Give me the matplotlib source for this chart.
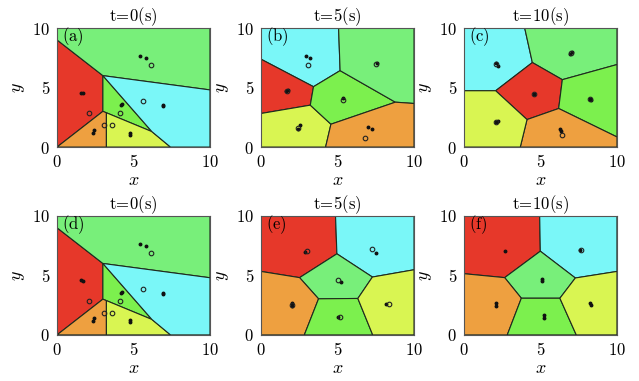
import numpy as np
import matplotlib
matplotlib.use('Agg')
import matplotlib.pyplot as plt
from matplotlib.patches import Polygon

plt.rcParams['mathtext.fontset'] = 'cm'
plt.rcParams['font.family'] = 'serif'
plt.rcParams['font.serif'] = ['DejaVu Serif']

# cell colours
RED = '#e6382a'
PALE = '#78ef7a'
LIME = '#7cf04e'
CYAN = '#7af7f8'
ORANGE = '#eea040'
YELLOW = '#d9f552'

# t = 0 partition (panels a and d)
cells_t0 = [
    ([(0, 0), (0, 9), (3, 6), (3, 3)], RED),
    ([(0, 9), (0, 10), (10, 10), (10, 4.8), (3, 6)], PALE),
    ([(3, 6), (3, 3), (6.2, 1.3)], LIME),
    ([(0, 0), (3, 3), (3.23, 2.88), (3.23, 0)], ORANGE),
    ([(3.23, 0), (3.23, 2.88), (6.2, 1.3), (7.42, 0)], YELLOW),
    ([(3, 6), (6.2, 1.3), (7.42, 0), (10, 0), (10, 4.8)], CYAN),
]
dots_t0 = [(5.41, 7.66), (5.85, 7.46), (1.55, 4.58), (1.68, 4.52), (4.17, 3.52), (4.22, 3.6),
           (6.9, 3.45), (6.9, 3.55), (2.45, 1.45), (2.38, 1.2), (4.8, 1.22), (4.8, 1.05)]
circles_t0 = [(6.14, 6.9), (2.1, 2.87), (4.15, 2.87), (5.63, 3.89), (3.1, 1.83), (3.62, 1.83)]

# t = 5 partition, top row (panel b)
cells_b = [
    ([(0, 7.38), (0, 10), (5.07, 10), (5.17, 6.42), (3.43, 5.07)], CYAN),
    ([(0, 2.82), (0, 7.38), (3.43, 5.07), (3.22, 3.52)], RED),
    ([(0, 0), (0, 2.82), (3.22, 3.52), (4.57, 1.92), (4.22, 0)], YELLOW),
    ([(3.43, 5.07), (5.17, 6.42), (8.78, 3.77), (4.57, 1.92), (3.22, 3.52)], LIME),
    ([(5.07, 10), (10, 10), (10, 3.66), (8.78, 3.77), (5.17, 6.42)], PALE),
    ([(4.22, 0), (4.57, 1.92), (8.78, 3.77), (10, 3.66), (10, 0)], ORANGE),
]
dots_b = [(2.91, 7.61), (3.22, 7.46), (1.65, 4.7), (1.78, 4.79), (7.57, 7.1), (5.39, 4.14),
          (2.41, 1.55), (2.57, 1.83), (7.0, 1.69), (7.28, 1.49)]
circles_b = [(3.07, 6.9), (1.68, 4.68), (7.52, 6.99), (5.39, 3.94), (2.41, 1.6), (6.8, 0.79)]

# t = 10 partition, top row (panel c)
cells_c = [
    ([(0, 4.73), (0, 10), (3.97, 10), (4.47, 7.1), (2.07, 4.73)], CYAN),
    ([(3.97, 10), (10, 10), (10, 6.93), (6.43, 5.66), (4.47, 7.1)], PALE),
    ([(2.07, 4.73), (4.47, 7.1), (6.43, 5.66), (6.19, 3.24), (4.12, 2.31)], RED),
    ([(6.43, 5.66), (10, 6.93), (10, 0.85), (6.19, 3.24)], LIME),
    ([(3.68, 0), (4.12, 2.31), (6.19, 3.24), (10, 0.85), (10, 0)], ORANGE),
    ([(0, 0), (0, 4.73), (2.07, 4.73), (4.12, 2.31), (3.68, 0)], YELLOW),
]
dots_c = [(2.07, 7.04), (2.2, 6.85), (6.91, 7.83), (7.04, 7.97), (4.58, 4.42), (8.22, 4.05),
          (8.3, 3.95), (2.07, 2.11), (2.24, 2.2), (6.25, 1.55), (6.34, 1.32)]
circles_c = [(2.12, 6.95), (6.97, 7.9), (4.58, 4.42), (8.26, 4.0), (2.1, 2.12), (6.43, 0.99)]

# t = 5 partition, bottom row (panel e)
cells_e = [
    ([(0, 5.33), (0, 10), (4.87, 10), (4.96, 6.81), (2.52, 4.81)], RED),
    ([(4.87, 10), (10, 10), (10, 5.47), (7.28, 4.86), (4.96, 6.81)], CYAN),
    ([(2.52, 4.81), (4.96, 6.81), (7.28, 4.86), (6.33, 3.06), (3.76, 3.03)], PALE),
    ([(0, 0), (0, 5.33), (2.52, 4.81), (3.76, 3.03), (2.83, 0)], ORANGE),
    ([(2.83, 0), (3.76, 3.03), (6.33, 3.06), (7.3, 0)], LIME),
    ([(7.3, 0), (6.33, 3.06), (7.28, 4.86), (10, 5.47), (10, 0)], YELLOW),
]
dots_e = [(2.89, 6.94), (7.5, 6.86), (5.22, 4.44), (2.04, 2.64), (2.04, 2.44), (5.02, 1.47), (8.17, 2.56)]
circles_e = [(3.0, 7.03), (7.28, 7.22), (5.0, 4.58), (2.04, 2.55), (5.13, 1.47), (8.39, 2.56)]

# t = 10 partition, bottom row (panel f)
cells_f = [
    ([(0, 5.14), (0, 10), (4.95, 10), (4.99, 7.03), (2.66, 4.81)], RED),
    ([(4.95, 10), (10, 10), (10, 5.33), (7.28, 4.78), (4.99, 7.03)], CYAN),
    ([(2.66, 4.81), (4.99, 7.03), (7.28, 4.78), (6.27, 3.08), (3.75, 3.08)], PALE),
    ([(0, 0), (0, 5.14), (2.66, 4.81), (3.75, 3.08), (2.83, 0)], ORANGE),
    ([(2.83, 0), (3.75, 3.08), (6.27, 3.08), (7.34, 0)], LIME),
    ([(7.34, 0), (6.27, 3.08), (7.28, 4.78), (10, 5.33), (10, 0)], YELLOW),
]
dots_f = [(2.7, 7.08), (7.6, 7.14), (5.12, 4.72), (5.12, 4.53), (2.07, 2.69), (2.07, 2.44),
          (5.21, 1.64), (5.21, 1.42), (8.26, 2.72), (8.3, 2.5)]
circles_f = [(7.68, 7.12)]

titles = ['t=0(s)', 't=5(s)', 't=10(s)']
letters = ['a', 'b', 'c', 'd', 'e', 'f']
panels = [(cells_t0, dots_t0, circles_t0), (cells_b, dots_b, circles_b), (cells_c, dots_c, circles_c),
          (cells_t0, dots_t0, circles_t0), (cells_e, dots_e, circles_e), (cells_f, dots_f, circles_f)]

fig = plt.figure(figsize=(6.39, 3.81), dpi=100)
lefts = [0.0892, 0.4085, 0.7261]
bottoms = [0.614, 0.121]
w, h = 0.2394, 0.3125

for k, (cells, dots, circles) in enumerate(panels):
    row, col = divmod(k, 3)
    ax = fig.add_axes([lefts[col], bottoms[row], w, h])
    for verts, c in cells:
        ax.add_patch(Polygon(verts, closed=True, facecolor=c, edgecolor='#1e2a1e', lw=0.8))
    d = np.array(dots)
    ax.plot(d[:, 0], d[:, 1], 'o', ms=1.8, color='#111111', mec='#111111', ls='none')
    cc = np.array(circles)
    ax.plot(cc[:, 0], cc[:, 1], 'o', ms=3.3, mfc='none', mec='#222222', mew=0.8, ls='none')
    ax.set_xlim(0, 10)
    ax.set_ylim(0, 10)
    ax.set_xticks([0, 5, 10])
    ax.set_yticks([0, 5, 10])
    ax.set_xticklabels([r'$0$', r'$5$', r'$10$'], fontsize=12)
    ax.set_yticklabels([r'$0$', r'$5$', r'$10$'], fontsize=12)
    ax.tick_params(direction='in', length=0, pad=5)
    for s in ax.spines.values():
        s.set_color('#555555')
        s.set_linewidth(0.8)
    ax.set_xlabel(r'$x$', fontsize=13, labelpad=0)
    ax.set_ylabel(r'$y$', fontsize=13, labelpad=4)
    ax.set_title(r'$\mathrm{t\!=\!%s(s)}$' % titles[col][2:-3], fontsize=12, pad=3)
    ax.text(0.35, 9.3, r'$\mathrm{(%s)}$' % letters[k], fontsize=12, va='center', ha='left')

fig.savefig('out.png', dpi=100)
